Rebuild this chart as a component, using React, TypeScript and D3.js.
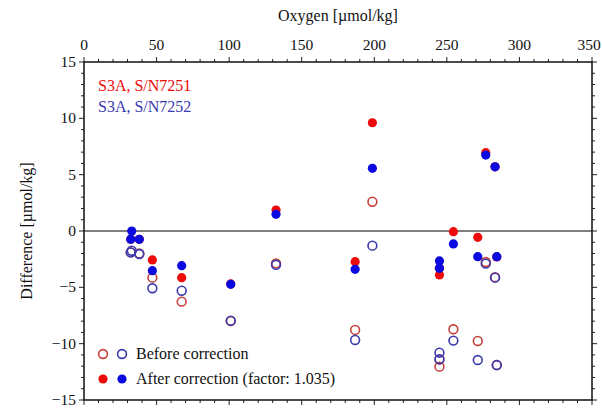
import React from "react";
import * as d3 from "d3";

// Sensor S/N7251 (red)
const oxygen7251 = [32.2, 38.1, 47.1, 67.3, 101.1, 132.3, 186.8, 198.7, 244.9, 244.9, 254.5, 271.3, 276.8, 283.2, 284.4];
const before7251 = [-1.9, -2.0, -4.14, -6.27, -8.0, -2.87, -8.78, 2.6, -12.04, -11.4, -8.72, -9.76, -2.75, -4.1, -11.9];
const after7251 = [-0.74, -0.74, -2.57, -4.14, -4.7, 1.86, -2.72, 9.61, -3.9, -3.3, -0.06, -0.56, 6.95, 5.7, -2.3];

// Sensor S/N7252 (blue)
const oxygen7252 = [32.9, 32.2, 38.1, 47.1, 67.3, 101.1, 132.3, 186.8, 198.7, 244.9, 244.9, 254.5, 271.3, 276.8, 283.2, 284.4];
const before7252 = [-1.75, -1.9, -2.04, -5.08, -5.3, -7.96, -3.0, -9.67, -1.3, -10.8, -11.38, -9.73, -11.45, -2.9, -4.14, -11.9];
const after7252 = [0.0, -0.74, -0.74, -3.52, -3.08, -4.73, 1.48, -3.4, 5.56, -2.66, -3.31, -1.15, -2.28, 6.74, 5.7, -2.28];

const xTicks = [0, 50, 100, 150, 200, 250, 300, 350];
const yTicks = [-15, -10, -5, 0, 5, 10, 15];

const RED = "#ee0a0a";
const BLUE = "#0a0ae0";
const RED_OPEN = "#c8403a";
const BLUE_OPEN = "#3a3ab0";
const FONT = "'Liberation Serif', 'Times New Roman', serif";

export default function App() {
  const W = 602, H = 409;
  const left = 84, right = 592, top = 62, bottom = 400;
  const x = d3.scaleLinear().domain([0, 350]).range([left, right]);
  const y = d3.scaleLinear().domain([-15, 15]).range([bottom, top]);

  const xMinor = d3.range(0, 351, 10);
  const yMinor = d3.range(-15, 15.01, 1);

  const majLen = 5, minLen = 3;

  return (
    <svg width={W} height={H} style={{ position: "absolute", left: 0, top: 0, background: "#fff" }} fontFamily={FONT}>
      <rect x={0} y={0} width={W} height={H} fill="#fff" />
      {/* zero line */}
      <line x1={left} x2={right} y1={y(0)} y2={y(0)} stroke="#555" strokeWidth={1.5} />

      {/* ticks */}
      {xMinor.map((v) => {
        const len = v % 50 === 0 ? majLen : minLen;
        return (
          <g key={"xm" + v} stroke="#222" strokeWidth={1}>
            <line x1={x(v)} x2={x(v)} y1={top} y2={top - len} />
            <line x1={x(v)} x2={x(v)} y1={bottom} y2={bottom + len} />
          </g>
        );
      })}
      {yMinor.map((v) => {
        const len = Math.abs(v) % 5 === 0 ? majLen : minLen;
        return (
          <g key={"ym" + v} stroke="#222" strokeWidth={1}>
            <line x1={left} x2={left - len} y1={y(v)} y2={y(v)} />
            <line x1={right} x2={right + len} y1={y(v)} y2={y(v)} />
          </g>
        );
      })}

      {/* frame */}
      <rect x={left} y={top} width={right - left} height={bottom - top} fill="none" stroke="#111" strokeWidth={1.5} />

      {/* top tick labels */}
      {xTicks.map((v) => (
        <text key={"xt" + v} x={Math.min(x(v), W - 13)} y={50} textAnchor="middle" fontSize={15.5} fill="#111">
          {v}
        </text>
      ))}
      <text x={(left + right) / 2} y={21} textAnchor="middle" fontSize={16} fill="#111">
        Oxygen [µmol/kg]
      </text>

      {/* y tick labels */}
      {yTicks.map((v) => (
        <text key={"yt" + v} x={left - 8} y={y(v) + 5} textAnchor="end" fontSize={15.5} fill="#111">
          {v < 0 ? "\u2212" + Math.abs(v) : v}
        </text>
      ))}
      <text
        transform={`translate(${32},${(top + bottom) / 2}) rotate(-90)`}
        textAnchor="middle"
        fontSize={16}
        fill="#111"
      >
        Difference [µmol/kg]
      </text>

      {/* open circles: before correction */}
      {oxygen7251.map((o, i) => (
        <circle key={"rb" + i} cx={x(o)} cy={y(before7251[i])} r={4.4} fill="none" stroke={RED_OPEN} strokeWidth={1.6} />
      ))}
      {oxygen7252.map((o, i) => (
        <circle key={"bb" + i} cx={x(o)} cy={y(before7252[i])} r={4.4} fill="none" stroke={BLUE_OPEN} strokeWidth={1.6} />
      ))}
      {/* filled: after correction */}
      {oxygen7251.map((o, i) => (
        <circle key={"ra" + i} cx={x(o)} cy={y(after7251[i])} r={4.6} fill={RED} />
      ))}
      {oxygen7252.map((o, i) => (
        <circle key={"ba" + i} cx={x(o)} cy={y(after7252[i])} r={4.6} fill={BLUE} />
      ))}

      {/* sensor legend */}
      <text x={98} y={91} fontSize={16} fill={RED}>S3A, S/N7251</text>
      <text x={98} y={112} fontSize={16} fill={BLUE_OPEN}>S3A, S/N7252</text>

      {/* marker legend */}
      <circle cx={103} cy={354} r={4.4} fill="none" stroke={RED_OPEN} strokeWidth={1.6} />
      <circle cx={122} cy={354} r={4.4} fill="none" stroke={BLUE_OPEN} strokeWidth={1.6} />
      <text x={136} y={359} fontSize={16} fill="#111">Before correction</text>
      <circle cx={103} cy={379} r={4.6} fill={RED} />
      <circle cx={122} cy={379} r={4.6} fill={BLUE} />
      <text x={136} y={384} fontSize={16} fill="#111">After correction (factor: 1.035)</text>
    </svg>
  );
}
